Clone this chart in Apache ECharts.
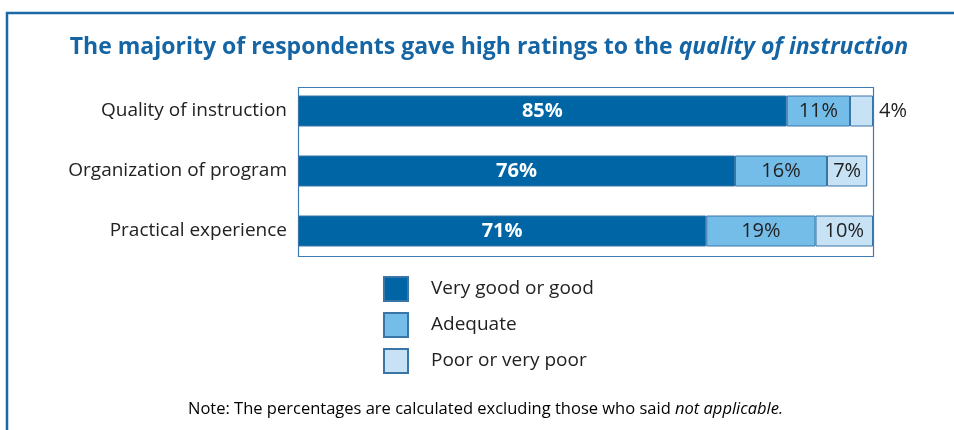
<!DOCTYPE html>
<html>
<head>
<meta charset="utf-8">
<script src="https://cdn.jsdelivr.net/npm/echarts@6/dist/echarts.min.js"></script>
<style>
  html, body { margin: 0; padding: 0; background: #fff; }
  #chart { width: 954px; height: 430px; }
</style>
</head>
<body>
<div id="chart"></div>
<script>
// Survey ratings by aspect of the program (percent of respondents)
const categories = ['Quality of instruction', 'Organization of program', 'Practical experience'];
const seriesNames = ['Very good or good', 'Adequate', 'Poor or very poor'];
const veryGood = [85, 76, 71];
const adequate = [11, 16, 19];
const poor = [4, 7, 10];

const colors = ['#0065a4', '#75bde9', '#c7e2f5'];
const FONT = '"Open Sans", "Noto Sans", sans-serif';

const chart = echarts.init(document.getElementById('chart'));

function labelFor(seriesIdx, value) {
  if (seriesIdx === 0) {
    return { show: true, position: 'inside', color: '#fff', fontWeight: 'bold', fontSize: 20, fontFamily: FONT, formatter: '{c}%' };
  }
  if (seriesIdx === 2 && value < 5) {
    return { show: true, position: 'right', distance: 6, color: '#222', fontSize: 20, fontFamily: FONT, formatter: '{c}%' };
  }
  return { show: true, position: 'inside', color: '#222', fontSize: 20, fontFamily: FONT, formatter: '{c}%' };
}

const allValues = [veryGood, adequate, poor];
const series = allValues.map((vals, s) => ({
  name: seriesNames[s],
  type: 'bar',
  stack: 'total',
  barWidth: 31,
  itemStyle: { color: colors[s], borderColor: '#3a75a8', borderWidth: 1 },
  data: vals.map(v => ({ value: v, label: labelFor(s, v) })),
  silent: true
}));

chart.setOption({
  animation: false,
  title: {
    text: '{n|The majority of respondents gave high ratings to the }{i|quality of instruction}',
    left: 489,
    textAlign: 'center',
    top: 36,
    padding: 0,
    textStyle: {
      rich: {
        n: { fontFamily: FONT, fontSize: 23, fontWeight: 'bold', color: '#1565a5' },
        i: { fontFamily: FONT, fontSize: 23, fontWeight: 'bold', fontStyle: 'italic', color: '#1565a5' }
      }
    }
  },
  legend: {
    orient: 'vertical',
    left: 383,
    top: 276,
    padding: 0,
    itemWidth: 24,
    itemHeight: 24,
    itemGap: 10,
    icon: 'rect',
    data: seriesNames,
    textStyle: { fontFamily: FONT, fontSize: 19, color: '#222', padding: [0, 0, 0, 18] },
    selectedMode: false
  },
  grid: { left: 298, top: 81, width: 575, height: 180 },
  xAxis: {
    type: 'value', min: 0, max: 100,
    show: false
  },
  yAxis: {
    type: 'category',
    inverse: true,
    data: categories,
    axisLine: { show: false },
    axisTick: { show: false },
    axisLabel: { fontFamily: FONT, fontSize: 19, color: '#222', margin: 11 }
  },
  series: series,
  graphic: [
    // outer frame (top and left edges)
    { type: 'polyline', silent: true, shape: { points: [[7, 430], [7, 13], [954, 13]] },
      style: { stroke: '#1b68a7', lineWidth: 2.5, fill: null } },
    // plot box
    { type: 'rect', silent: true, z: -1, shape: { x: 298.5, y: 87.5, width: 575, height: 169 },
      style: { stroke: '#3f7bb0', lineWidth: 1.2, fill: null } },
    // note
    { type: 'text', silent: true, left: 188, top: 401,
      style: {
        text: '{n|Note: The percentages are calculated excluding those who said }{i|not applicable.}',
        rich: {
          n: { fontFamily: FONT, fontSize: 16.5, color: '#222' },
          i: { fontFamily: FONT, fontSize: 16.5, fontStyle: 'italic', color: '#222' }
        }
      } }
  ]
});
</script>
</body>
</html>
